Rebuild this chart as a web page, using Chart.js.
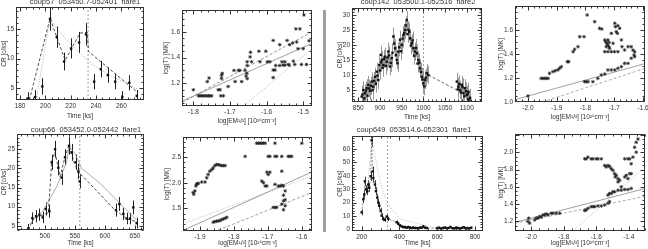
<!DOCTYPE html>
<html>
<head>
<meta charset="utf-8">
<script src="https://cdn.jsdelivr.net/npm/chart.js@4.4.1/dist/chart.umd.min.js"></script>
<style>
  html, body { margin: 0; padding: 0; background: #fff; }
  body { width: 648px; height: 249px; position: relative; overflow: hidden; font-family: "Liberation Sans", Arial, sans-serif; }
  canvas { position: absolute; }
  .ttl { position: absolute; font-size: 7.5px; line-height: 9px; color: #333; white-space: pre; transform: translateX(-50%); opacity: 0.99; will-change: transform; }
  .sep { position: absolute; left: 323px; top: 10px; width: 3px; height: 222px; background: #a0a0a0; }
</style>
</head>
<body>
<div class="ttl" style="left:85px; top:-3px">coup57  053450.7-052401  flare1</div>
<div class="ttl" style="left:418px; top:-3px">coup142  053500.1-052516  flare2</div>
<div class="ttl" style="left:86px; top:125px">coup66  053452.0-052442  flare1</div>
<div class="ttl" style="left:414px; top:125px">coup649  053514.6-052301  flare1</div>
<div class="sep"></div>
<script>
// ---- coup57 flare1: light curve ----
const p1Time = [186.6, 191.9, 197.6, 203.7, 209.0, 214.8, 220.3, 226.6, 232.1, 238.5, 243.8, 249.3, 255.1, 260.8, 266.3, 272.2];
const p1Rate = [3.3, 3.5, 5.3, 16.7, 13.6, 9.5, 11.7, 12.7, 14.1, 6.1, 8.2, 7.2, 6.1, 3.5, 5.9, 3.7];
const p1Err = [1.0, 1.2, 1.4, 2.0, 1.8, 1.5, 1.7, 1.8, 1.9, 1.3, 1.4, 1.3, 1.3, 1.0, 1.3, 1.0];
const p1ModelTime = [187.4, 203.7, 215.6, 227.4, 233.2, 234.0, 272.2];
const p1ModelRate = [3.0, 16.8, 9.7, 14.3, 14.4, 11.2, 4.4];
const p1DecayTime = [193.2, 203.7, 209.0, 216.9, 227.4, 237.9, 251.1, 272.2];
const p1DecayRate = [3.5, 16.8, 15.1, 13.1, 10.9, 8.9, 7.2, 4.9];
const p1FlareEnd = 233.7;

// ---- coup57: log T vs log EM^1/2 ----
const p2LogEM = [-1.800, -1.786, -1.782, -1.777, -1.773, -1.768, -1.763, -1.759, -1.755, -1.750, -1.762, -1.757,
  -1.732, -1.727, -1.725, -1.723, -1.723, -1.721, -1.718, -1.705, -1.689, -1.686, -1.677, -1.673, -1.668, -1.659,
  -1.656, -1.654, -1.653, -1.653, -1.653, -1.645, -1.644, -1.641, -1.621, -1.618, -1.602, -1.598, -1.591,
  -1.582, -1.582, -1.582, -1.577, -1.575, -1.564, -1.564, -1.558, -1.555, -1.550, -1.550, -1.544, -1.541, -1.538,
  -1.537, -1.529, -1.527, -1.523, -1.520, -1.518, -1.514, -1.509, -1.505, -1.500, -1.498, -1.491, -1.484];
const p2LogT = [1.149, 1.102, 1.102, 1.102, 1.102, 1.102, 1.102, 1.102, 1.102, 1.102, 1.213, 1.241,
  1.149, 1.149, 1.102, 1.238, 1.262, 1.277, 1.102, 1.175, 1.300, 1.213, 1.300, 1.300, 1.213, 1.300,
  1.256, 1.277, 1.236, 1.338, 1.367, 1.405, 1.441, 1.367, 1.449, 1.367, 1.449, 1.367, 1.367,
  1.533, 1.303, 1.244, 1.303, 1.338, 1.500, 1.338, 1.367, 1.341, 1.367, 1.341, 1.533, 1.346, 1.341,
  1.500, 1.513, 1.372, 1.346, 1.623, 1.521, 1.469, 1.623, 1.346, 1.469, 1.731, 1.346, 1.531];
const p2FitEM = [-1.831, -1.476];
const p2FitSolid = [1.06, 1.51];
const p2FitDash = [1.05, 1.60];
const p2SteepEM = [-1.664, -1.476];
const p2Steep = [1.02, 1.47];

// ---- coup142 flare2: light curve ----
const p3Time = [857.8, 859.6, 861.5, 863.5, 865.5, 867.5, 869.4, 871.2, 873.1, 875.0, 877.0, 879.0, 880.9, 882.8,
  884.6, 886.5, 888.5, 890.5, 892.4, 894.3, 896.1, 898.4, 900.0, 901.7, 902.8, 904.0, 906.0, 907.7, 909.6, 911.6,
  913.5, 915.5, 917.4, 919.2, 921.1, 923.1, 925.0, 927.0, 928.8, 930.7, 932.6, 934.6, 936.6, 938.6, 940.4, 942.3,
  944.3, 946.2, 948.2, 950.1, 952.0, 953.8, 955.8, 957.7, 959.7, 961.6, 963.5, 965.3, 967.3, 969.2, 971.2, 973.2,
  975.0, 976.8, 978.7, 980.7, 982.7, 984.7, 986.5, 988.4, 990.4, 992.3, 994.3, 996.2, 998.0, 999.9, 1001.8, 1003.8,
  1005.7, 1007.7, 1011.4, 1077.0, 1079.0, 1080.6, 1082.6, 1084.6, 1086.5, 1088.5, 1090.3, 1092.2, 1094.2, 1096.2,
  1098.0, 1100.0, 1101.8, 1103.6, 1105.6, 1107.6];
const p3Rate = [2.8, 3.5, 5.0, 2.2, 3.9, 4.8, 5.6, 3.1, 6.7, 5.5, 4.7, 6.4, 7.8, 4.9,
  6.1, 8.0, 9.4, 7.1, 11.1, 9.8, 8.3, 13.3, 11.5, 16.7, 14.2, 15.0, 12.4, 13.3, 15.3, 16.1,
  13.0, 14.4, 15.8, 17.8, 16.5, 12.8, 14.0, 15.6, 17.4, 22.8, 20.5, 18.9, 16.6, 15.0, 13.9, 17.8,
  19.2, 21.7, 17.9, 20.0, 22.1, 23.3, 24.0, 25.0, 26.5, 28.3, 23.6, 25.0, 24.4, 22.2, 19.8, 20.6,
  21.5, 18.9, 16.4, 17.8, 19.0, 17.2, 13.8, 15.0, 14.1, 12.2, 11.0, 9.4, 8.5, 7.2, 6.2, 8.3,
  9.1, 10.6, 10.0, 7.8, 5.2, 6.1, 7.0, 5.0, 4.2, 6.7, 5.9, 3.9, 2.9, 5.6,
  4.6, 3.3, 3.6, 4.4, 1.8, 2.4];
const p3Err = 3.0;
const p3GapTime = [1011.4, 1077.0];
const p3GapRate = [10.0, 5.0];
const p3FlareEnd = 1000;

// ---- coup142: log T vs log EM^1/2 ----
const p4LogEM = [-2.000, -1.954, -1.948, -1.942, -1.936, -1.930, -1.925, -1.913, -1.905, -1.896, -1.890, -1.884,
  -1.863, -1.858, -1.843, -1.838, -1.826, -1.820, -1.805, -1.794, -1.768, -1.751, -1.743,
  -1.733, -1.730, -1.726, -1.722, -1.719, -1.716, -1.728, -1.722, -1.718,
  -1.733, -1.722, -1.710, -1.699, -1.687,
  -1.710, -1.704, -1.698, -1.696, -1.693, -1.689, -1.687, -1.681, -1.675, -1.673, -1.664, -1.652, -1.641, -1.635, -1.631, -1.629,
  -1.803, -1.797, -1.791, -1.774, -1.757, -1.745, -1.733, -1.722, -1.710, -1.698, -1.687, -1.675, -1.664, -1.652, -1.641, -1.629];
const p4LogT = [1.050, 1.197, 1.197, 1.197, 1.197, 1.197, 1.239, 1.253, 1.261, 1.267, 1.281, 1.294,
  1.336, 1.336, 1.419, 1.439, 1.461, 1.544, 1.544, 1.725, 1.669, 1.614, 1.608,
  1.517, 1.503, 1.489, 1.475, 1.461, 1.447, 1.461, 1.517, 1.497,
  1.419, 1.419, 1.419, 1.419, 1.419,
  1.572, 1.489, 1.656, 1.628, 1.586, 1.572, 1.636, 1.614, 1.517, 1.461, 1.433, 1.461, 1.461, 1.433, 1.392, 1.419,
  1.169, 1.169, 1.169, 1.169, 1.197, 1.225, 1.233, 1.267, 1.267, 1.267, 1.281, 1.294, 1.322, 1.322, 1.364, 1.378];
const p4FitEM = [-2.045, -1.593];
const p4FitSolid = [1.02, 1.32];
const p4SteepEM = [-1.95, -1.593];
const p4Steep = [1.0, 1.28];

// ---- coup66 flare1: light curve ----
const p5Time = [472.2, 478.9, 485.0, 490.6, 496.1, 501.1, 507.2, 511.1, 516.7, 522.2, 527.8, 533.3, 540.0, 544.4,
  551.1, 555.6, 557.8, 618.3, 623.9, 630.6, 636.1, 641.7, 647.2, 652.8];
const p5Rate = [4.3, 7.0, 7.5, 7.9, 7.2, 9.4, 8.8, 21.6, 25.0, 20.2, 17.6, 22.9, 25.9, 24.2,
  21.6, 19.2, 16.6, 9.1, 10.7, 8.1, 6.9, 6.9, 9.8, 5.7];
const p5Err = [1.2, 1.5, 1.6, 1.6, 1.5, 1.7, 1.7, 2.0, 2.2, 2.0, 1.9, 2.1, 2.3, 2.2,
  2.0, 2.0, 1.8, 1.7, 1.8, 1.6, 1.5, 1.5, 1.8, 1.4];
const p5ModelTime = [472.2, 480.6, 505.6, 511.1, 516.7, 525.0, 533.3, 540.0, 550.0, 558.3, 616.7, 636.1, 652.8];
const p5ModelRate = [3.9, 6.9, 8.4, 21.7, 24.3, 17.8, 23.0, 26.1, 20.8, 18.7, 9.1, 6.9, 6.0];
const p5SmoothTime = [475.0, 497.2, 519.4, 536.1, 540.0, 550.0, 561.1, 591.7, 619.4, 652.8];
const p5SmoothRate = [5.6, 9.1, 15.2, 21.7, 25.6, 23.9, 20.0, 16.1, 11.7, 6.5];
const p5FlareEnd = 558;

// ---- coup66: log T vs log EM^1/2 ----
const p6LogEM = [-1.920, -1.918, -1.915, -1.912, -1.910, -1.908, -1.905, -1.895, -1.885, -1.880, -1.876, -1.871,
  -1.865, -1.861, -1.856, -1.851, -1.846, -1.841, -1.836, -1.831, -1.826,
  -1.861, -1.856, -1.851, -1.846, -1.841, -1.836, -1.831, -1.826, -1.821,
  -1.767, -1.733, -1.728, -1.723, -1.718, -1.713, -1.708, -1.679, -1.600,
  -1.699, -1.694, -1.679, -1.674, -1.659, -1.640, -1.635, -1.630,
  -1.703, -1.699, -1.694, -1.718, -1.713, -1.708, -1.703, -1.679, -1.669, -1.664, -1.659, -1.654, -1.649, -1.654, -1.659,
  -1.684, -1.679, -1.674, -1.659, -1.654, -1.654, -1.649, -1.649];
const p6LogT = [1.808, 1.776, 1.840, 1.936, 1.968, 1.981, 1.987, 2.013, 2.013, 2.096, 2.160, 2.224,
  2.256, 2.288, 2.333, 2.353, 2.353, 2.340, 2.333, 2.333, 2.333,
  1.231, 1.244, 1.250, 1.256, 1.263, 1.282, 1.295, 1.308, 1.327,
  2.513, 2.769, 2.769, 2.769, 2.769, 2.769, 2.769, 2.769, 2.769,
  2.513, 2.513, 2.513, 2.513, 2.513, 2.513, 2.513, 2.513,
  2.205, 2.160, 2.205, 2.032, 2.000, 1.936, 1.936, 1.968, 1.936, 1.936, 1.949, 1.936, 1.840, 1.756, 2.224,
  1.519, 1.519, 1.519, 1.583, 1.647, 1.474, 1.551, 1.667];
const p6FitEM = [-1.95, -1.57];
const p6FitSolid = [1.07, 2.21];
const p6FitDot = [1.20, 2.13];
const p6DashEM = [-1.86, -1.57];
const p6FitDash = [1.04, 1.81];

// ---- coup649 flare1: light curve ----
const p7Time = [200.0, 209.0, 214.0, 217.0, 222.8, 229.9, 235.0, 240.5, 247.6, 252.9, 258.2, 261.6, 270.4, 275.7,
  282.8, 288.1, 293.4, 300.5, 305.8, 314.6, 323.3, 332.3, 341.0, 385.2, 393.8, 402.6, 411.6, 420.1, 429.0, 438.0,
  446.6, 455.6, 464.6, 473.0, 482.0, 491.0, 499.5, 508.5, 517.5, 526.0, 535.0, 544.0,
  600, 610, 620, 630, 640, 650, 660, 670, 680, 690, 700, 710, 720, 730, 740, 750, 760, 770, 780];
const p7Rate = [12.8, 22.6, 26.2, 35.9, 29.9, 28.6, 33.5, 31.1, 39.6, 66.3, 43.2, 38.3, 33.5, 28.6,
  23.8, 20.1, 17.7, 14.1, 10.4, 8.0, 7.3, 9.7, 8.0, 5.5, 4.4, 3.1, 2.4, 1.9, 1.9, 1.5,
  1.9, 1.5, 1.2, 1.5, 1.2, 1.2, 0.9, 1.5, 1.5, 2.4, 1.5, 1.2,
  1.0, 1.4, 0.8, 1.2, 1.6, 1.0, 1.3, 2.0, 1.1, 0.9, 1.5, 1.2, 0.8, 1.3, 1.7, 1.0, 1.2, 0.9, 1.4];
const p7Err = [2.2, 2.8, 3.0, 3.4, 3.1, 3.0, 3.3, 3.2, 3.5, 4.6, 3.7, 3.5, 3.3, 3.0,
  2.8, 2.6, 2.4, 2.2, 1.9, 1.7, 1.6, 1.8, 1.7, 1.4, 1.3, 1.1, 1.0, 0.9, 0.9, 0.8,
  0.9, 0.8, 0.8, 0.8, 0.8, 0.8, 0.7, 0.8, 0.8, 1.0, 0.8, 0.8,
  0.7, 0.8, 0.7, 0.8, 0.8, 0.7, 0.8, 0.9, 0.7, 0.7, 0.8, 0.8, 0.7, 0.8, 0.9, 0.7, 0.8, 0.7, 0.8];
const p7DecayTime = [235.0, 252.9, 270.4, 296.8, 332.3, 402.6, 578.8, 773.0];
const p7DecayRate = [35.9, 66.3, 55.4, 35.9, 20.1, 8.0, 1.5, 0.0];
const p7FlareEnd = 337.5;

// ---- coup649: log T vs log EM^1/2 ----
const p8LogEM = [-2.020, -2.016, -2.010, -1.979, -1.969, -1.959, -1.948, -1.938, -1.928, -1.918, -1.908, -1.897,
  -1.877, -1.866, -1.846, -1.825,
  -1.671, -1.662, -1.651, -1.631, -1.620, -1.610, -1.590, -1.569, -1.548, -1.528, -1.518,
  -1.528, -1.518, -1.508, -1.497, -1.487, -1.466, -1.446, -1.425, -1.405, -1.385,
  -1.671, -1.662, -1.651, -1.631, -1.620, -1.600, -1.590, -1.569,
  -1.548, -1.538, -1.528, -1.518, -1.508, -1.497, -1.487, -1.483, -1.477, -1.466, -1.466, -1.456, -1.446,
  -1.425, -1.415, -1.394, -1.385, -1.425, -1.405, -1.394, -1.374, -1.364, -1.354, -1.343, -1.354, -1.385, -1.405];
const p8LogT = [1.200, 1.238, 1.181, 1.218, 1.238, 1.238, 1.257, 1.249, 1.275, 1.275, 1.287, 1.275,
  1.295, 1.295, 1.295, 1.295,
  1.326, 1.333, 1.352, 1.371, 1.371, 1.371, 1.379, 1.379, 1.390, 1.409, 1.429,
  1.504, 1.523, 1.523, 1.543, 1.543, 1.561, 1.561, 1.569, 1.569, 1.581,
  1.923, 1.923, 1.943, 1.923, 1.923, 1.923, 1.923, 1.923,
  1.847, 1.829, 1.847, 1.835, 1.809, 1.790, 1.752, 1.714, 1.733, 1.695, 1.657, 1.675, 1.600,
  1.714, 1.733, 1.752, 1.866, 1.923, 1.923, 1.923, 1.943, 2.057, 2.114, 2.152, 2.000, 1.752, 1.695];
const p8FitEM = [-2.1, -1.3];
const p8FitSolid = [1.19, 1.58];
const p8FitDash = [1.18, 1.49];
const p8SteepEM = [-1.743, -1.3];
const p8Steep = [1.09, 1.83];

const timeTitle = "Time [ks]";
const rateTitle = "CR [c/ks]";
const emTitle = "log[EM\u00B9/\u00B2] [10\u00B2\u2076cm\u207B\u00B3]";
const tempTitle = "log(T) [MK]";

const PAD_TOP = 6, PAD_RIGHT = 8;
const FONT = { family: "'Liberation Sans', Arial, sans-serif", size: 6.5 };
const INK = "#333";

const pts = (xs, ys) => xs.map((x, i) => ({ x, y: ys[i] }));
const rates = (xs, ys, errs, errColor) => ({
  data: pts(xs, ys), pointStyle: "rect", pointRadius: 1.7, backgroundColor: "#111",
  borderColor: "#111", borderWidth: 0, errs, errColor
});
const marks = (xs, ys) => ({
  data: pts(xs, ys), pointStyle: "star", pointRadius: 1.8, borderColor: "#222", borderWidth: 0.8
});
const line = (xs, ys, color, dash, width = 0.8) => ({
  data: pts(xs, ys), showLine: true, pointRadius: 0, borderColor: color, borderDash: dash, borderWidth: width
});

// box outline and inward major/minor ticks on all four sides
const framePlugin = {
  id: "frame",
  afterDatasetsDraw(chart, args, opts) {
    const { ctx, chartArea: a, scales: { x, y } } = chart;
    const L = Math.round(a.left) + 0.5, R = Math.round(a.right) - 0.5;
    const T = Math.round(a.top) + 0.5, B = Math.round(a.bottom) - 0.5;
    const tickMarks = (scale, n) => {
      const v = scale.ticks.map(tk => tk.value);
      const step = (v[1] - v[0]) / n;
      const out = [];
      for (let k = -n; k <= v.length * n; k++) {
        const val = v[0] + k * step;
        if (val > scale.min && val < scale.max) out.push([Math.round(scale.getPixelForValue(val)) + 0.5, k % n === 0 ? 4 : 2]);
      }
      return out;
    };
    ctx.save();
    ctx.strokeStyle = INK;
    ctx.lineWidth = 1;
    ctx.strokeRect(L, T, R - L, B - T);
    ctx.beginPath();
    tickMarks(x, opts.minorX).forEach(([p, len]) => {
      ctx.moveTo(p, B); ctx.lineTo(p, B - len);
      ctx.moveTo(p, T); ctx.lineTo(p, T + len);
    });
    tickMarks(y, opts.minorY).forEach(([p, len]) => {
      ctx.moveTo(L, p); ctx.lineTo(L + len, p);
      ctx.moveTo(R, p); ctx.lineTo(R - len, p);
    });
    ctx.stroke();
    ctx.restore();
  }
};

// vertical error bars for datasets carrying an errs value or array
const errorBarPlugin = {
  id: "errorBars",
  beforeDatasetsDraw(chart) {
    const { ctx, chartArea: a, scales: { x, y } } = chart;
    ctx.save();
    ctx.beginPath();
    ctx.rect(a.left, a.top, a.right - a.left, a.bottom - a.top);
    ctx.clip();
    chart.data.datasets.forEach(ds => {
      if (ds.errs === undefined) return;
      ctx.strokeStyle = ds.errColor;
      ctx.lineWidth = 1;
      ds.data.forEach((pt, i) => {
        const e = Array.isArray(ds.errs) ? ds.errs[i] : ds.errs;
        const px = Math.round(x.getPixelForValue(pt.x)) + 0.5;
        ctx.beginPath();
        ctx.moveTo(px, y.getPixelForValue(pt.y - e));
        ctx.lineTo(px, y.getPixelForValue(pt.y + e));
        ctx.stroke();
      });
    });
    ctx.restore();
  }
};

function axis(min, max, ticks, dec, title, fit) {
  return {
    type: "linear", min, max,
    grid: { display: false, drawTicks: false, tickLength: 0 }, border: { display: false },
    afterBuildTicks: s => { s.ticks = ticks.map(v => ({ value: v })); },
    afterFit: fit,
    ticks: { font: FONT, color: INK, padding: 2, maxRotation: 0, autoSkip: false, callback: v => v.toFixed(dec) },
    title: { display: true, text: title, font: FONT, color: INK, padding: 0 }
  };
}

function addPanel(p) {
  const [l, t, r, b] = p.box;
  const canvas = document.createElement("canvas");
  canvas.width = p.yw + (r - l) + PAD_RIGHT;
  canvas.height = PAD_TOP + (b - t) + p.xh;
  canvas.style.left = (l - p.yw) + "px";
  canvas.style.top = (t - PAD_TOP) + "px";
  document.body.appendChild(canvas);
  return new Chart(canvas, {
    type: "scatter",
    data: { datasets: p.datasets },
    options: {
      responsive: false,
      animation: false,
      devicePixelRatio: 1,
      layout: { padding: { top: PAD_TOP, right: PAD_RIGHT, left: 0, bottom: 0 } },
      plugins: {
        legend: { display: false },
        tooltip: { enabled: false },
        frame: { minorX: p.minorX, minorY: p.minorY }
      },
      scales: {
        x: axis(p.x[0], p.x[1], p.ticksX, p.decX, p.xTitle, s => { s.height = p.xh; }),
        y: axis(p.y[0], p.y[1], p.ticksY, p.decY, p.yTitle, s => { s.width = p.yw; })
      }
    },
    plugins: [framePlugin, errorBarPlugin]
  });
}

const vline = (t, yr) => line([t, t], yr, "#888", [2, 2]);

addPanel({
  box: [16, 7, 144, 100], yw: 16, xh: 20, x: [176.8, 277.9], y: [3.0, 18.7],
  ticksX: [180, 200, 220, 240, 260], ticksY: [5, 10, 15], decX: 0, decY: 0, minorX: 4, minorY: 5,
  xTitle: timeTitle, yTitle: rateTitle,
  datasets: [
    rates(p1Time, p1Rate, p1Err, "#222"),
    line(p1ModelTime, p1ModelRate, "#222", [3, 2]),
    line(p1DecayTime, p1DecayRate, "#999", [1, 1.5]),
    vline(p1FlareEnd, [3.0, 18.7])
  ]
});

addPanel({
  box: [182, 10, 312, 106], yw: 20, xh: 19, x: [-1.831, -1.476], y: [1.023, 1.77],
  ticksX: [-1.8, -1.7, -1.6, -1.5], ticksY: [1.2, 1.4, 1.6], decX: 1, decY: 1, minorX: 5, minorY: 4,
  xTitle: emTitle, yTitle: tempTitle,
  datasets: [
    marks(p2LogEM, p2LogT),
    line(p2FitEM, p2FitSolid, "#888", []),
    line(p2FitEM, p2FitDash, "#777", [3, 2]),
    line(p2SteepEM, p2Steep, "#aaa", [1, 1.5])
  ]
});

addPanel({
  box: [352, 8, 482, 102], yw: 16, xh: 19, x: [835.5, 1135], y: [1, 32.3],
  ticksX: [850, 900, 950, 1000, 1050, 1100], ticksY: [5, 10, 15, 20, 25, 30], decX: 0, decY: 0, minorX: 5, minorY: 5,
  xTitle: timeTitle, yTitle: rateTitle,
  datasets: [
    rates(p3Time, p3Rate, p3Err, "#9a9a9a"),
    line(p3GapTime, p3GapRate, "#444", [3, 2]),
    vline(p3FlareEnd, [1, 32.3])
  ]
});

addPanel({
  box: [515, 6, 645, 102], yw: 18, xh: 19, x: [-2.045, -1.593], y: [1.0, 1.8],
  ticksX: [-2.0, -1.9, -1.8, -1.7, -1.6], ticksY: [1.0, 1.2, 1.4, 1.6], decX: 1, decY: 1, minorX: 5, minorY: 4,
  xTitle: emTitle, yTitle: tempTitle,
  datasets: [
    marks(p4LogEM, p4LogT),
    line(p4FitEM, p4FitSolid, "#888", []),
    line(p4SteepEM, p4Steep, "#999", [3, 2])
  ]
});

addPanel({
  box: [17, 134, 144, 230], yw: 17, xh: 17, x: [453.3, 665], y: [3.9, 29],
  ticksX: [500, 550, 600, 650], ticksY: [5, 10, 15, 20, 25], decX: 0, decY: 0, minorX: 5, minorY: 5,
  xTitle: timeTitle, yTitle: rateTitle,
  datasets: [
    rates(p5Time, p5Rate, p5Err, "#222"),
    line(p5ModelTime, p5ModelRate, "#222", [3, 2]),
    line(p5SmoothTime, p5SmoothRate, "#999", []),
    vline(p5FlareEnd, [3.9, 29])
  ]
});

addPanel({
  box: [183, 137, 312, 231], yw: 20, xh: 16, x: [-1.95, -1.57], y: [1.06, 2.89],
  ticksX: [-1.9, -1.8, -1.7, -1.6], ticksY: [1.5, 2.0, 2.5], decX: 1, decY: 1, minorX: 5, minorY: 5,
  xTitle: emTitle, yTitle: tempTitle,
  datasets: [
    marks(p6LogEM, p6LogT),
    line(p6FitEM, p6FitSolid, "#888", []),
    line(p6FitEM, p6FitDot, "#aaa", [1, 1.5]),
    line(p6DashEM, p6FitDash, "#888", [3, 2])
  ]
});

addPanel({
  box: [352, 136, 483, 231], yw: 16, xh: 16, x: [149, 842], y: [-1, 69.5],
  ticksX: [200, 400, 600, 800], ticksY: [0, 10, 20, 30, 40, 50, 60], decX: 0, decY: 0, minorX: 4, minorY: 5,
  xTitle: timeTitle, yTitle: rateTitle,
  datasets: [
    rates(p7Time, p7Rate, p7Err, "#444"),
    line(p7Time, p7Rate, "#444", [2, 1.5], 0.6),
    line(p7DecayTime, p7DecayRate, "#aaa", [1, 1.5]),
    vline(p7FlareEnd, [-1, 69.5])
  ]
});

addPanel({
  box: [515, 134, 645, 231], yw: 18, xh: 16, x: [-2.1, -1.3], y: [1.09, 2.21],
  ticksX: [-2.0, -1.8, -1.6, -1.4], ticksY: [1.2, 1.4, 1.6, 1.8, 2.0], decX: 1, decY: 1, minorX: 4, minorY: 4,
  xTitle: emTitle, yTitle: tempTitle,
  datasets: [
    marks(p8LogEM, p8LogT),
    line(p8FitEM, p8FitSolid, "#888", []),
    line(p8FitEM, p8FitDash, "#999", [3, 2]),
    line(p8SteepEM, p8Steep, "#aaa", [1, 1.5])
  ]
});
</script>
</body>
</html>
